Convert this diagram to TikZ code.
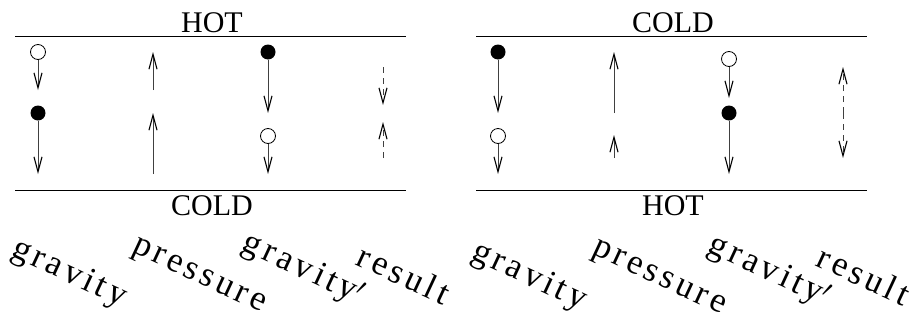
\documentclass[tikz,border=0pt]{standalone}
\usepackage{fontspec}
\setmainfont{Liberation Serif}
\newfontfamily\labfont[LetterSpace=11]{Liberation Serif}
\usetikzlibrary{arrows.meta}
\tikzset{
  head/.style={font=\fontsize{30}{36}\selectfont, inner sep=0pt, anchor=base},
  lab/.style={font=\labfont\fontsize{35}{40}\selectfont, inner sep=0pt, rotate=-25, anchor=center},
  wall/.style={line width=0.9pt},
  force/.style={line width=0.8pt, draw=black!75, -{Straight Barb[length=15pt,width=8pt,line width=1.1pt,color=black]}},
  dforce/.style={force, dash pattern=on 6pt off 5pt},
  hollow/.style={circle, draw, line width=0.8pt, fill=white, minimum size=15pt, inner sep=0pt},
  solid/.style={circle, fill=black, minimum size=15pt, inner sep=0pt},
}
\begin{document}
\begin{tikzpicture}[x=1pt,y=-1pt]
\useasboundingbox (0,0) rectangle (916,327);
% ---------- left panel ----------
\node[head] (lhot) at (212,32) {HOT};
\node[head] (lcold) at (212,215) {COLD};
\draw[wall] (15,36) coordinate (ltl) -- (406,36) coordinate (ltr);
\draw[wall] (15,190) coordinate (lbl) -- (406,190) coordinate (lbr);
% column 1
\node[hollow] (a1) at (38,52) {};
\coordinate (a1e) at (38,90);
\draw[force] (a1.south) -- (a1e);
\node[solid] (a2) at (38,113) {};
\coordinate (a2e) at (38,174);
\draw[force] (a2.south) -- (a2e);
% column 2
\coordinate (b1s) at (153,90); \coordinate (b1e) at (153,52);
\draw[force] (b1s) -- (b1e);
\coordinate (b2s) at (153,174); \coordinate (b2e) at (153,113);
\draw[force] (b2s) -- (b2e);
% column 3
\node[solid] (c1) at (268,52) {};
\coordinate (c1e) at (268,113);
\draw[force] (c1.south) -- (c1e);
\node[hollow] (c2) at (268,136) {};
\coordinate (c2e) at (268,174);
\draw[force] (c2.south) -- (c2e);
% column 4
\coordinate (d1s) at (383,67); \coordinate (d1e) at (383,105);
\draw[dforce] (d1s) -- (d1e);
\coordinate (d2s) at (383,158); \coordinate (d2e) at (383,122);
\draw[dforce] (d2s) -- (d2e);
% labels
\node[lab] (lg) at (69,274) {gravity};
\node[lab] (lp) at (198,278) {pressure};
\node[lab] (lg2) at (303,270) {gravity$'$};
\node[lab] (lr) at (404,274) {result};
% ---------- right panel ----------
\node[head] (rcold) at (673,32) {COLD};
\node[head] (rhot) at (673,215) {HOT};
\draw[wall] (476,36) coordinate (rtl) -- (867,36) coordinate (rtr);
\draw[wall] (476,190) coordinate (rbl) -- (867,190) coordinate (rbr);
% column 1
\node[solid] (e1) at (498,52) {};
\coordinate (e1e) at (498,113);
\draw[force] (e1.south) -- (e1e);
\node[hollow] (e2) at (498,136) {};
\coordinate (e2e) at (498,174);
\draw[force] (e2.south) -- (e2e);
% column 2
\coordinate (f1s) at (614,113); \coordinate (f1e) at (614,52);
\draw[force] (f1s) -- (f1e);
\coordinate (f2s) at (614,158); \coordinate (f2e) at (614,135);
\draw[force] (f2s) -- (f2e);
% column 3
\node[hollow] (g1) at (729,59) {};
\coordinate (g1e) at (729,98);
\draw[force] (g1.south) -- (g1e);
\node[solid] (g2) at (729,113) {};
\coordinate (g2e) at (729,174);
\draw[force] (g2.south) -- (g2e);
% column 4
\coordinate (h0) at (843,113);
\coordinate (h1e) at (843,67);
\coordinate (h2e) at (843,158);
\draw[dforce] (h0) -- (h1e);
\draw[dforce] (h0) -- (h2e);
% labels
\node[lab] (rg) at (529,277) {gravity};
\node[lab] (rp) at (658,280) {pressure};
\node[lab] (rg2) at (769,272) {gravity$'$};
\node[lab] (rr) at (864,275) {result};
\end{tikzpicture}
\end{document}
